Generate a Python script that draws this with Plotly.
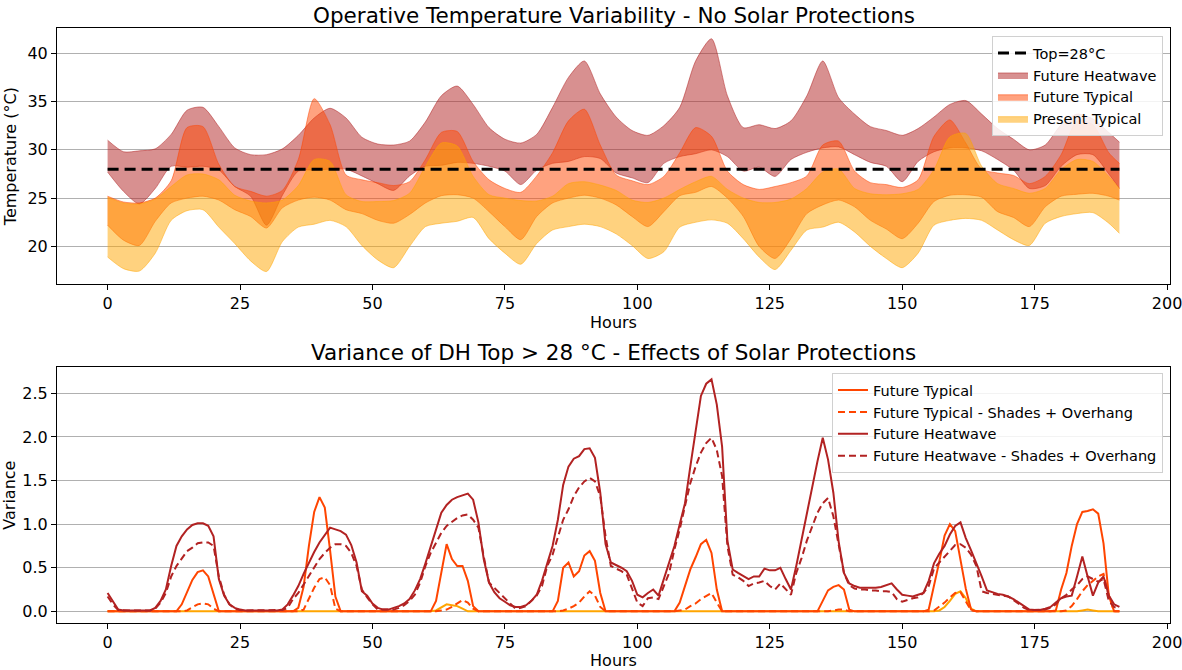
import plotly.graph_objects as go

# ---------------- Top chart data (operative temperature bands, °C) ----------------
hours_top = [0, 3, 6, 9, 12, 15, 18, 21,
             24, 27, 30, 33, 36, 39, 42, 45,
             48, 51, 54, 57, 60, 63, 66, 69,
             72, 75, 78, 81, 84, 87, 90, 93,
             96, 99, 102, 105, 108, 111, 114, 117,
             120, 123, 126, 129, 132, 135, 138, 141,
             144, 147, 150, 153, 156, 159, 162, 165,
             168, 171, 174, 177, 180, 183, 186, 189,
             191]

heatwave_max = [31.0, 29.8, 29.9, 30.1, 31.6, 34.1, 34.4, 32.4,
                30.2, 29.5, 29.5, 30.1, 31.5, 33.3, 34.3, 33.3,
                31.3, 30.6, 30.5, 30.9, 32.9, 35.6, 36.6, 34.7,
                32.3, 31.1, 30.7, 31.6, 34.4, 37.5, 39.2, 35.8,
                33.4, 32.0, 31.5, 32.5, 34.4, 39.2, 41.5, 35.6,
                32.3, 32.6, 32.2, 33.0, 35.6, 39.2, 35.4, 33.7,
                32.4, 32.0, 31.5, 32.2, 33.4, 34.7, 35.1, 33.7,
                32.2, 31.1, 30.0, 30.5, 32.6, 33.7, 33.2, 31.8,
                30.8]
heatwave_min = [27.7, 25.7, 24.4, 26.0, 28.3, 28.2, 28.3, 27.9,
                26.2, 25.2, 22.2, 25.3, 27.8, 27.9, 28.0, 28.0,
                27.3, 26.5, 25.8, 27.3, 28.3, 28.4, 28.7, 28.6,
                28.3, 27.8, 26.4, 27.9, 28.6, 28.8, 29.3, 29.1,
                27.6, 27.1, 26.6, 28.6, 29.3, 29.6, 30.0, 29.3,
                27.8, 28.2, 27.25, 29.0, 29.75, 30.2, 30.3, 29.5,
                28.7, 28.3, 26.7, 28.8, 29.8, 30.2, 30.2, 29.9,
                29.0, 27.9, 26.0, 26.3, 28.3, 29.5, 29.5, 27.5,
                26.0]
fut_typ_max = [25.2, 24.6, 24.5, 25.0, 26.8, 32.3, 32.4, 28.5,
               26.2, 25.7, 25.2, 25.8, 29.0, 35.3, 32.6, 27.4,
               26.9, 26.6, 26.3, 26.7, 29.0, 31.8, 31.9, 28.8,
               26.9, 26.0, 25.6, 27.3, 29.7, 33.0, 34.2, 30.5,
               27.4, 26.8, 26.4, 27.25, 29.7, 32.3, 31.4, 27.8,
               26.4, 25.9, 26.2, 26.6, 27.3, 30.5, 30.9, 27.8,
               26.6, 26.4, 26.1, 26.9, 31.4, 33.1, 30.7, 28.0,
               27.6, 27.35, 26.5, 27.25, 29.5, 33.0, 32.6, 29.7,
               28.6]
fut_typ_min = [22.2, 20.65, 20.1, 22.6, 24.5, 25.0, 25.2, 24.8,
               23.8, 23.1, 21.9, 24.0, 24.8, 25.1, 24.8, 23.8,
               23.4, 22.7, 22.4, 23.3, 24.5, 25.25, 25.35, 25.0,
               23.6, 22.05, 20.7, 23.1, 24.5, 25.0, 25.3, 25.0,
               24.3, 23.1, 22.05, 23.6, 25.25, 25.6, 26.2, 25.0,
               23.1, 20.0, 18.75, 20.8, 23.4, 24.3, 24.8, 24.1,
               22.7, 21.8, 20.8, 22.4, 24.65, 25.3, 25.35, 25.1,
               23.6, 23.0, 22.05, 24.1, 25.2, 25.4, 25.5, 25.2,
               24.8]
pres_typ_max = [25.1, 24.5, 24.4, 24.9, 26.2, 27.4, 27.5, 26.9,
                25.3, 24.7, 24.5, 24.8, 26.3, 29.0, 28.8, 25.35,
                24.65, 24.65, 24.75, 25.5, 28.3, 30.7, 30.4, 27.25,
                25.35, 25.0, 24.75, 24.7, 25.2, 26.5, 26.7, 26.35,
                25.8, 24.8, 24.55, 25.0, 25.9, 26.7, 27.25, 25.9,
                25.0, 24.55, 24.55, 24.9, 26.0, 27.7, 28.0, 26.0,
                25.45, 25.35, 25.45, 25.9, 27.95, 31.35, 31.7, 28.3,
                26.5, 26.0, 25.5, 26.0, 27.95, 29.0, 28.8, 27.25,
                26.0]
pres_typ_min = [18.9, 17.7, 17.45, 19.3, 22.7, 23.7, 23.8, 22.0,
                20.3, 18.5, 17.4, 20.5, 22.0, 22.3, 22.7, 22.05,
                20.1, 18.6, 17.8, 20.0, 22.05, 22.4, 22.6, 23.0,
                20.8, 19.3, 18.15, 20.3, 21.7, 22.05, 22.3, 22.05,
                21.3, 20.1, 18.75, 19.45, 22.0, 22.5, 22.75, 22.4,
                20.8, 18.9, 17.6, 19.6, 21.7, 22.0, 22.5, 21.5,
                20.0, 18.75, 17.8, 19.3, 22.2, 22.7, 22.9, 22.7,
                21.7, 20.7, 20.1, 22.4, 23.1, 23.4, 23.5, 22.4,
                21.35]
THRESHOLD = 28

# ---------------- Bottom chart data (variance, hourly) ----------------
hours = list(range(192))

var_fut_heat = [0.21, 0.12, 0.02, 0.01, 0.01, 0.01, 0.01, 0.01, 0.01, 0.04, 0.12, 0.25, 0.52, 0.75, 0.86, 0.94, 0.99, 1.01, 1.01, 0.98, 0.86, 0.37, 0.18, 0.08,
                0.04, 0.02, 0.01, 0.01, 0.01, 0.01, 0.01, 0.01, 0.01, 0.02, 0.08, 0.18, 0.29, 0.43, 0.56, 0.68, 0.79, 0.88, 0.96, 0.94, 0.92, 0.88, 0.76, 0.56,
                0.23, 0.18, 0.09, 0.04, 0.02, 0.02, 0.04, 0.06, 0.09, 0.14, 0.24, 0.37, 0.55, 0.75, 0.95, 1.13, 1.22, 1.28, 1.31, 1.33, 1.35, 1.28, 1.02, 0.60,
                0.33, 0.22, 0.15, 0.11, 0.07, 0.05, 0.05, 0.07, 0.12, 0.19, 0.35, 0.55, 0.75, 1.05, 1.45, 1.66, 1.75, 1.78, 1.86, 1.87, 1.76, 1.36, 0.77, 0.56,
                0.53, 0.50, 0.46, 0.35, 0.19, 0.16, 0.21, 0.25, 0.18, 0.37, 0.55, 0.75, 1.00, 1.24, 1.66, 2.08, 2.47, 2.61, 2.66, 2.37, 1.89, 0.81, 0.48, 0.44,
                0.40, 0.37, 0.40, 0.40, 0.49, 0.47, 0.47, 0.50, 0.37, 0.25, 0.52, 0.82, 1.10, 1.44, 1.72, 1.99, 1.74, 1.36, 0.80, 0.44, 0.32, 0.29, 0.27, 0.27,
                0.27, 0.27, 0.28, 0.30, 0.32, 0.25, 0.19, 0.18, 0.17, 0.19, 0.21, 0.35, 0.55, 0.66, 0.75, 0.88, 0.98, 1.02, 0.84, 0.70, 0.56, 0.40, 0.24, 0.22,
                0.20, 0.19, 0.17, 0.14, 0.10, 0.05, 0.02, 0.015, 0.015, 0.03, 0.05, 0.10, 0.15, 0.17, 0.18, 0.40, 0.63, 0.40, 0.18, 0.33, 0.40, 0.18, 0.08, 0.05]

var_fut_heat_shade = [0.17, 0.08, 0.015, 0.01, 0.01, 0.01, 0.01, 0.01, 0.01, 0.03, 0.10, 0.21, 0.40, 0.52, 0.61, 0.69, 0.73, 0.78, 0.79, 0.79, 0.75, 0.40, 0.19, 0.08,
                      0.03, 0.015, 0.01, 0.01, 0.01, 0.01, 0.01, 0.01, 0.01, 0.015, 0.04, 0.14, 0.21, 0.31, 0.40, 0.50, 0.60, 0.67, 0.73, 0.77, 0.77, 0.75, 0.67, 0.52,
                      0.25, 0.16, 0.08, 0.02, 0.02, 0.02, 0.02, 0.04, 0.07, 0.12, 0.19, 0.33, 0.52, 0.67, 0.79, 0.90, 0.98, 1.03, 1.07, 1.10, 1.11, 1.05, 0.96, 0.63,
                      0.33, 0.27, 0.21, 0.16, 0.09, 0.03, 0.04, 0.06, 0.12, 0.18, 0.29, 0.52, 0.65, 0.86, 1.05, 1.17, 1.32, 1.42, 1.49, 1.53, 1.49, 1.32, 0.86, 0.52,
                      0.49, 0.46, 0.42, 0.25, 0.10, 0.06, 0.15, 0.16, 0.14, 0.29, 0.44, 0.71, 0.94, 1.21, 1.47, 1.66, 1.82, 1.93, 1.99, 1.85, 1.55, 0.75, 0.42, 0.39,
                      0.35, 0.29, 0.32, 0.33, 0.35, 0.29, 0.25, 0.32, 0.26, 0.19, 0.44, 0.61, 0.81, 0.98, 1.13, 1.24, 1.30, 1.09, 0.75, 0.44, 0.30, 0.26, 0.25, 0.25,
                      0.24, 0.24, 0.23, 0.23, 0.22, 0.14, 0.11, 0.13, 0.15, 0.16, 0.21, 0.29, 0.49, 0.56, 0.63, 0.70, 0.76, 0.77, 0.73, 0.65, 0.52, 0.23, 0.21, 0.20,
                      0.19, 0.18, 0.17, 0.13, 0.08, 0.04, 0.015, 0.015, 0.015, 0.02, 0.04, 0.08, 0.15, 0.19, 0.25, 0.30, 0.37, 0.40, 0.37, 0.34, 0.37, 0.12, 0.05, 0.03]

var_fut_typ = [0, 0, 0, 0, 0, 0, 0, 0, 0, 0, 0, 0, 0, 0, 0.08, 0.22, 0.36, 0.45, 0.47, 0.40, 0.20, 0, 0, 0,
               0, 0, 0, 0, 0, 0, 0, 0, 0, 0, 0, 0, 0.04, 0.28, 0.75, 1.14, 1.31, 1.19, 0.70, 0.17, 0, 0, 0, 0,
               0, 0, 0, 0, 0, 0, 0, 0, 0, 0, 0, 0, 0, 0, 0.12, 0.45, 0.77, 0.60, 0.52, 0.52, 0.35, 0.06, 0, 0,
               0, 0, 0, 0, 0, 0, 0, 0, 0, 0, 0, 0, 0, 0.12, 0.50, 0.56, 0.40, 0.46, 0.64, 0.69, 0.58, 0.21, 0, 0,
               0, 0, 0, 0, 0, 0, 0, 0, 0, 0, 0, 0, 0.10, 0.29, 0.48, 0.62, 0.77, 0.82, 0.67, 0.25, 0, 0, 0, 0,
               0, 0, 0, 0, 0, 0, 0, 0, 0, 0, 0, 0, 0, 0, 0, 0.12, 0.24, 0.28, 0.30, 0.25, 0.02, 0, 0, 0,
               0, 0, 0, 0, 0, 0, 0, 0, 0, 0, 0, 0.02, 0.28, 0.57, 0.87, 1.00, 0.92, 0.61, 0.26, 0.02, 0, 0, 0, 0,
               0, 0, 0, 0, 0, 0, 0, 0, 0, 0, 0, 0.01, 0.25, 0.44, 0.75, 1.00, 1.14, 1.15, 1.17, 1.12, 0.78, 0.18, 0, 0]

var_fut_typ_shade = [0, 0, 0, 0, 0, 0, 0, 0, 0, 0, 0, 0, 0, 0, 0, 0.01, 0.05, 0.08, 0.09, 0.08, 0.03, 0, 0, 0,
                     0, 0, 0, 0, 0, 0, 0, 0, 0, 0, 0, 0, 0, 0.02, 0.15, 0.27, 0.37, 0.39, 0.30, 0.03, 0, 0, 0, 0,
                     0, 0, 0, 0, 0, 0, 0, 0, 0, 0, 0, 0, 0, 0, 0, 0.01, 0.02, 0.05, 0.09, 0.13, 0.10, 0.03, 0, 0,
                     0, 0, 0, 0, 0, 0, 0, 0, 0, 0, 0, 0, 0, 0, 0.01, 0.03, 0.06, 0.10, 0.17, 0.23, 0.18, 0.05, 0, 0,
                     0, 0, 0, 0, 0, 0, 0, 0, 0, 0, 0, 0, 0.01, 0.02, 0.06, 0.09, 0.14, 0.18, 0.21, 0.10, 0, 0, 0, 0,
                     0, 0, 0, 0, 0, 0, 0, 0, 0, 0, 0, 0, 0, 0, 0, 0, 0, 0.01, 0.02, 0.02, 0, 0, 0, 0,
                     0, 0, 0, 0, 0, 0, 0, 0, 0, 0, 0, 0, 0.01, 0.05, 0.10, 0.16, 0.21, 0.22, 0.12, 0.01, 0, 0, 0, 0,
                     0, 0, 0, 0, 0, 0, 0, 0, 0, 0, 0, 0, 0, 0.01, 0.06, 0.14, 0.23, 0.30, 0.35, 0.40, 0.43, 0.18, 0, 0]

var_pres_typ = [0, 0, 0, 0, 0, 0, 0, 0, 0, 0, 0, 0, 0, 0, 0, 0, 0, 0, 0, 0, 0, 0, 0, 0,
                0, 0, 0, 0, 0, 0, 0, 0, 0, 0, 0, 0, 0, 0, 0, 0, 0, 0, 0, 0, 0, 0, 0, 0,
                0, 0, 0, 0, 0, 0, 0, 0, 0, 0, 0, 0, 0, 0, 0.01, 0.05, 0.08, 0.07, 0.06, 0.03, 0, 0, 0, 0,
                0, 0, 0, 0, 0, 0, 0, 0, 0, 0, 0, 0, 0, 0, 0, 0, 0, 0, 0, 0, 0, 0, 0, 0,
                0, 0, 0, 0, 0, 0, 0, 0, 0, 0, 0, 0, 0, 0, 0, 0, 0, 0, 0, 0, 0, 0, 0, 0,
                0, 0, 0, 0, 0, 0, 0, 0, 0, 0, 0, 0, 0, 0, 0, 0, 0, 0, 0, 0, 0, 0, 0, 0,
                0, 0, 0, 0, 0, 0, 0, 0, 0, 0, 0, 0, 0, 0.01, 0.05, 0.12, 0.20, 0.23, 0.15, 0.03, 0, 0, 0, 0,
                0, 0, 0, 0, 0, 0, 0, 0, 0, 0, 0, 0, 0, 0, 0, 0, 0.01, 0.02, 0.01, 0, 0, 0, 0, 0]

for name, arr, ref in [("heatwave_max", heatwave_max, hours_top), ("heatwave_min", heatwave_min, hours_top),
                       ("fut_typ_max", fut_typ_max, hours_top), ("fut_typ_min", fut_typ_min, hours_top),
                       ("pres_typ_max", pres_typ_max, hours_top), ("pres_typ_min", pres_typ_min, hours_top),
                       ("var_fut_heat", var_fut_heat, hours), ("var_fut_heat_shade", var_fut_heat_shade, hours),
                       ("var_fut_typ", var_fut_typ, hours), ("var_fut_typ_shade", var_fut_typ_shade, hours),
                       ("var_pres_typ", var_pres_typ, hours)]:
    if len(arr) != len(ref):
        print("LENGTH MISMATCH", name, len(arr), len(ref))

# ---------------- Styles ----------------
FONT = "DejaVu Sans"
C_HEAT = "178,34,34"
C_FUT = "255,69,0"
C_PRES = "255,165,0"

fig = go.Figure()

bands = [("Future Heatwave", heatwave_min, heatwave_max, C_HEAT),
         ("Future Typical", fut_typ_min, fut_typ_max, C_FUT),
         ("Present Typical", pres_typ_min, pres_typ_max, C_PRES)]
for i, (name, lo, hi, col) in enumerate(bands):
    fig.add_trace(go.Scatter(x=hours_top, y=lo, mode="lines",
                             line=dict(color=f"rgba({col},0.5)", width=1, shape="spline", smoothing=0.7),
                             showlegend=False, hoverinfo="skip", xaxis="x", yaxis="y"))
    fig.add_trace(go.Scatter(x=hours_top, y=hi, mode="lines", fill="tonexty",
                             fillcolor=f"rgba({col},0.5)",
                             line=dict(color=f"rgba({col},0.5)", width=1, shape="spline", smoothing=0.7),
                             name=name, legend="legend", legendrank=10 + i, xaxis="x", yaxis="y"))

fig.add_trace(go.Scatter(x=[hours_top[0], hours_top[-1]], y=[THRESHOLD, THRESHOLD], mode="lines",
                         line=dict(color="black", width=3, dash="11px,6px"),
                         name="Top=28°C", legend="legend", legendrank=1, xaxis="x", yaxis="y"))

# bottom chart
fig.add_trace(go.Scatter(x=hours, y=var_pres_typ, mode="lines", line=dict(color="#ffa500", width=2),
                         showlegend=False, xaxis="x2", yaxis="y2"))
line_specs = [("Future Typical", var_fut_typ, "#ff4500", "solid"),
              ("Future Typical - Shades + Overhang", var_fut_typ_shade, "#ff4500", "7px,4px"),
              ("Future Heatwave", var_fut_heat, "#b22222", "solid"),
              ("Future Heatwave - Shades + Overhang", var_fut_heat_shade, "#b22222", "7px,4px")]
for i, (name, vals, col, dash) in enumerate(line_specs):
    fig.add_trace(go.Scatter(x=hours, y=vals, mode="lines", line=dict(color=col, width=2, dash=dash),
                             name=name, legend="legend2", legendrank=1 + i, xaxis="x2", yaxis="y2"))

axis_common = dict(showline=True, mirror=True, linecolor="black", linewidth=1,
                   ticks="outside", ticklen=5, tickwidth=1, tickcolor="black",
                   zeroline=False, tickfont=dict(family=FONT, size=16, color="black"),
                   automargin=False, ticklabeloverflow="allow")
xticks = [0, 25, 50, 75, 100, 125, 150, 175, 200]
TITLE_FONT = dict(family=FONT, size=16, color="black")

fig.update_layout(
    width=1182, height=670,
    margin=dict(l=57, r=12, t=0, b=0),
    paper_bgcolor="white", plot_bgcolor="white",
    font=dict(family=FONT, size=15, color="black"),
    xaxis=dict(domain=[0, 1], anchor="y", range=[-9.55, 200.55], tickvals=xticks, showgrid=False,
               title=dict(text="Hours", font=TITLE_FONT, standoff=2), **axis_common),
    yaxis=dict(domain=[0.576, 0.958], anchor="x", range=[16.1, 42.6], tickvals=[20, 25, 30, 35, 40],
               showgrid=True, gridcolor="#b0b0b0", gridwidth=1,
               title=dict(text="Temperature (°C)", font=TITLE_FONT, standoff=6), **axis_common),
    xaxis2=dict(domain=[0, 1], anchor="y2", range=[-9.55, 200.55], tickvals=xticks, showgrid=False,
                title=dict(text="Hours", font=TITLE_FONT, standoff=2), **axis_common),
    yaxis2=dict(domain=[0.070, 0.452], anchor="x2", range=[-0.135, 2.80],
                tickvals=[0, 0.5, 1.0, 1.5, 2.0, 2.5], ticktext=["0.0", "0.5", "1.0", "1.5", "2.0", "2.5"],
                showgrid=True, gridcolor="#b0b0b0", gridwidth=1,
                title=dict(text="Variance", font=TITLE_FONT, standoff=6), **axis_common),
    legend=dict(x=0.9937, y=0.946, xanchor="right", yanchor="top", bgcolor="rgba(255,255,255,0.85)",
                bordercolor="#d0d0d0", borderwidth=1, font=dict(family=FONT, size=14.5, color="black"),
                tracegroupgap=0, itemwidth=30, traceorder="normal"),
    legend2=dict(x=0.9937, y=0.443, xanchor="right", yanchor="top", bgcolor="rgba(255,255,255,0.85)",
                 bordercolor="#d0d0d0", borderwidth=1, font=dict(family=FONT, size=14.5, color="black"),
                 tracegroupgap=0, itemwidth=30, traceorder="normal"),
    annotations=[
        dict(text="Operative Temperature Variability - No Solar Protections", xref="paper", yref="paper",
             x=0.5, y=0.9776, xanchor="center", yanchor="middle", showarrow=False,
             font=dict(family=FONT, size=21.5, color="black")),
        dict(text="Variance of DH Top > 28 °C - Effects of Solar Protections", xref="paper", yref="paper",
             x=0.5, y=0.4746, xanchor="center", yanchor="middle", showarrow=False,
             font=dict(family=FONT, size=21.5, color="black")),
    ],
)

fig.write_html("out.html", config={"displayModeBar": False},
               post_script="document.body.style.margin='0px';")
